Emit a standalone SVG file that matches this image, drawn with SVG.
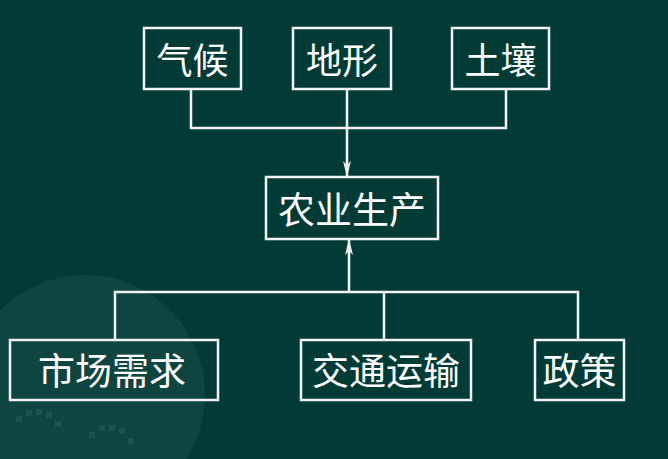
<svg xmlns="http://www.w3.org/2000/svg" width="668" height="459" viewBox="0 0 668 459">
<defs>
<style>
.box{fill:none;stroke:#f2f2f2;stroke-width:2.5}
.lbl{fill:#ffffff;font-family:"Noto Sans CJK SC","Noto Sans CJK TC",sans-serif;text-anchor:middle;dominant-baseline:central}
.ln{fill:none;stroke:#f2f2f2;stroke-width:2.5}
.deco{fill:#2c5a55;opacity:0.6}
</style>
<marker id="arr" viewBox="0 0 16 8" markerWidth="16" markerHeight="8" refX="15" refY="4" orient="auto" markerUnits="userSpaceOnUse">
<path d="M0,0 L16,4 L0,8 L4,4 Z" fill="#f2f2f2"/>
</marker>
</defs>
<rect width="668" height="459" fill="#023b36"/>
<circle cx="85" cy="395" r="120" fill="#ffffff" opacity="0.05"/>
<g class="deco">
<rect x="16" y="416" width="6" height="6"/><rect x="26" y="410" width="6" height="6"/><rect x="36" y="409" width="6" height="6"/><rect x="46" y="412" width="6" height="6"/><rect x="55" y="421" width="6" height="6"/>
<rect x="89" y="432" width="6" height="6"/><rect x="99" y="425" width="6" height="6"/><rect x="109" y="425" width="6" height="6"/><rect x="119" y="428" width="6" height="6"/><rect x="128" y="438" width="6" height="6"/>
</g>
<g id="connectors">
<polyline class="ln" points="191,89 191,128 506,128 506,89"/>
<line class="ln" x1="347" y1="89" x2="347" y2="176" marker-end="url(#arr)"/>
<polyline class="ln" points="115,341 115,292 578,292 578,341"/>
<line class="ln" x1="384" y1="292" x2="384" y2="341"/>
<line class="ln" x1="349" y1="292" x2="349" y2="240" marker-end="url(#arr)"/>
</g>
<g id="qihou"><rect class="box" x="144" y="28" width="97" height="61"/><text class="lbl" x="192.5" y="58" font-size="36">气候</text></g>
<g id="dixing"><rect class="box" x="293" y="28" width="98" height="61"/><text class="lbl" x="342" y="58" font-size="36">地形</text></g>
<g id="turang"><rect class="box" x="452" y="28" width="97" height="61"/><text class="lbl" x="500.5" y="58" font-size="36">土壤</text></g>
<g id="nongye"><rect class="box" x="266" y="177" width="172" height="62"/><text class="lbl" x="352" y="208" font-size="37">农业生产</text></g>
<g id="shichang"><rect class="box" x="10" y="340" width="208" height="60"/><text class="lbl" x="112" y="369" font-size="37">市场需求</text></g>
<g id="jiaotong"><rect class="box" x="301" y="340" width="170" height="60"/><text class="lbl" x="386" y="369" font-size="37">交通运输</text></g>
<g id="zhengce"><rect class="box" x="535" y="340" width="89" height="60"/><text class="lbl" x="579.5" y="369" font-size="37">政策</text></g>
</svg>
